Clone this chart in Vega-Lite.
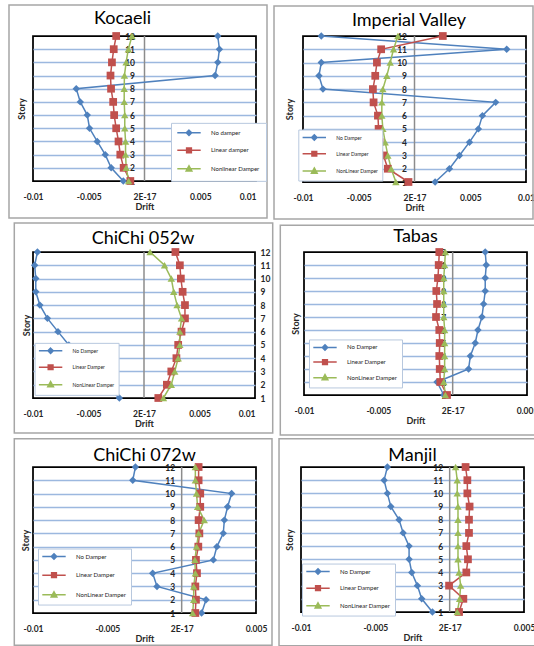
{
"$schema": "https://vega.github.io/schema/vega-lite/v6.json",
"padding": {"left": 7, "top": 3, "right": 0, "bottom": 0},
"data": {"values": [
{"panel":"Kocaeli","series":"No Damper","story":12,"drift":0.00657},
{"panel":"Kocaeli","series":"No Damper","story":11,"drift":0.00672},
{"panel":"Kocaeli","series":"No Damper","story":10,"drift":0.00657},
{"panel":"Kocaeli","series":"No Damper","story":9,"drift":0.00633},
{"panel":"Kocaeli","series":"No Damper","story":8,"drift":-0.00612},
{"panel":"Kocaeli","series":"No Damper","story":7,"drift":-0.00576},
{"panel":"Kocaeli","series":"No Damper","story":6,"drift":-0.00513},
{"panel":"Kocaeli","series":"No Damper","story":5,"drift":-0.00493},
{"panel":"Kocaeli","series":"No Damper","story":4,"drift":-0.00424},
{"panel":"Kocaeli","series":"No Damper","story":3,"drift":-0.00352},
{"panel":"Kocaeli","series":"No Damper","story":2,"drift":-0.00299},
{"panel":"Kocaeli","series":"No Damper","story":1,"drift":-0.0019},
{"panel":"Kocaeli","series":"Linear Damper","story":12,"drift":-0.00254},
{"panel":"Kocaeli","series":"Linear Damper","story":11,"drift":-0.00276},
{"panel":"Kocaeli","series":"Linear Damper","story":10,"drift":-0.00292},
{"panel":"Kocaeli","series":"Linear Damper","story":9,"drift":-0.00305},
{"panel":"Kocaeli","series":"Linear Damper","story":8,"drift":-0.003},
{"panel":"Kocaeli","series":"Linear Damper","story":7,"drift":-0.00281},
{"panel":"Kocaeli","series":"Linear Damper","story":6,"drift":-0.00272},
{"panel":"Kocaeli","series":"Linear Damper","story":5,"drift":-0.00254},
{"panel":"Kocaeli","series":"Linear Damper","story":4,"drift":-0.00233},
{"panel":"Kocaeli","series":"Linear Damper","story":3,"drift":-0.00217},
{"panel":"Kocaeli","series":"Linear Damper","story":2,"drift":-0.00187},
{"panel":"Kocaeli","series":"Linear Damper","story":1,"drift":-0.00127},
{"panel":"Kocaeli","series":"NonLinear Damper","story":12,"drift":-0.00112},
{"panel":"Kocaeli","series":"NonLinear Damper","story":11,"drift":-0.00145},
{"panel":"Kocaeli","series":"NonLinear Damper","story":10,"drift":-0.00165},
{"panel":"Kocaeli","series":"NonLinear Damper","story":9,"drift":-0.0018},
{"panel":"Kocaeli","series":"NonLinear Damper","story":8,"drift":-0.00182},
{"panel":"Kocaeli","series":"NonLinear Damper","story":7,"drift":-0.00182},
{"panel":"Kocaeli","series":"NonLinear Damper","story":6,"drift":-0.00177},
{"panel":"Kocaeli","series":"NonLinear Damper","story":5,"drift":-0.00177},
{"panel":"Kocaeli","series":"NonLinear Damper","story":4,"drift":-0.0017},
{"panel":"Kocaeli","series":"NonLinear Damper","story":3,"drift":-0.0017},
{"panel":"Kocaeli","series":"NonLinear Damper","story":2,"drift":-0.00164},
{"panel":"Kocaeli","series":"NonLinear Damper","story":1,"drift":-0.00142},
{"panel":"Imperial Valley","series":"No Damper","story":12,"drift":-0.00836},
{"panel":"Imperial Valley","series":"No Damper","story":11,"drift":0.00827},
{"panel":"Imperial Valley","series":"No Damper","story":10,"drift":-0.00836},
{"panel":"Imperial Valley","series":"No Damper","story":9,"drift":-0.00857},
{"panel":"Imperial Valley","series":"No Damper","story":8,"drift":-0.00821},
{"panel":"Imperial Valley","series":"No Damper","story":7,"drift":0.00728},
{"panel":"Imperial Valley","series":"No Damper","story":6,"drift":0.00609},
{"panel":"Imperial Valley","series":"No Damper","story":5,"drift":0.00573},
{"panel":"Imperial Valley","series":"No Damper","story":4,"drift":0.00493},
{"panel":"Imperial Valley","series":"No Damper","story":3,"drift":0.00403},
{"panel":"Imperial Valley","series":"No Damper","story":2,"drift":0.00313},
{"panel":"Imperial Valley","series":"No Damper","story":1,"drift":0.00185},
{"panel":"Imperial Valley","series":"Linear Damper","story":12,"drift":0.00254},
{"panel":"Imperial Valley","series":"Linear Damper","story":11,"drift":-0.00299},
{"panel":"Imperial Valley","series":"Linear Damper","story":10,"drift":-0.00337},
{"panel":"Imperial Valley","series":"Linear Damper","story":9,"drift":-0.00352},
{"panel":"Imperial Valley","series":"Linear Damper","story":8,"drift":-0.00373},
{"panel":"Imperial Valley","series":"Linear Damper","story":7,"drift":-0.00367},
{"panel":"Imperial Valley","series":"Linear Damper","story":6,"drift":-0.00328},
{"panel":"Imperial Valley","series":"Linear Damper","story":5,"drift":-0.00322},
{"panel":"Imperial Valley","series":"Linear Damper","story":4,"drift":-0.00313},
{"panel":"Imperial Valley","series":"Linear Damper","story":3,"drift":-0.00278},
{"panel":"Imperial Valley","series":"Linear Damper","story":2,"drift":-0.00239},
{"panel":"Imperial Valley","series":"Linear Damper","story":1,"drift":-0.00054},
{"panel":"Imperial Valley","series":"NonLinear Damper","story":12,"drift":-0.00149},
{"panel":"Imperial Valley","series":"NonLinear Damper","story":11,"drift":-0.00188},
{"panel":"Imperial Valley","series":"NonLinear Damper","story":10,"drift":-0.00218},
{"panel":"Imperial Valley","series":"NonLinear Damper","story":9,"drift":-0.00248},
{"panel":"Imperial Valley","series":"NonLinear Damper","story":8,"drift":-0.00284},
{"panel":"Imperial Valley","series":"NonLinear Damper","story":7,"drift":-0.00293},
{"panel":"Imperial Valley","series":"NonLinear Damper","story":6,"drift":-0.00293},
{"panel":"Imperial Valley","series":"NonLinear Damper","story":5,"drift":-0.00284},
{"panel":"Imperial Valley","series":"NonLinear Damper","story":4,"drift":-0.00263},
{"panel":"Imperial Valley","series":"NonLinear Damper","story":3,"drift":-0.00239},
{"panel":"Imperial Valley","series":"NonLinear Damper","story":2,"drift":-0.00209},
{"panel":"Imperial Valley","series":"NonLinear Damper","story":1,"drift":-0.00167},
{"panel":"ChiChi 052w","series":"No Damper","story":12,"drift":-0.0096},
{"panel":"ChiChi 052w","series":"No Damper","story":11,"drift":-0.00985},
{"panel":"ChiChi 052w","series":"No Damper","story":10,"drift":-0.00975},
{"panel":"ChiChi 052w","series":"No Damper","story":9,"drift":-0.00975},
{"panel":"ChiChi 052w","series":"No Damper","story":8,"drift":-0.00938},
{"panel":"ChiChi 052w","series":"No Damper","story":7,"drift":-0.0087},
{"panel":"ChiChi 052w","series":"No Damper","story":6,"drift":-0.00775},
{"panel":"ChiChi 052w","series":"No Damper","story":5,"drift":-0.00677},
{"panel":"ChiChi 052w","series":"No Damper","story":4,"drift":-0.0059},
{"panel":"ChiChi 052w","series":"No Damper","story":3,"drift":-0.00483},
{"panel":"ChiChi 052w","series":"No Damper","story":2,"drift":-0.00363},
{"panel":"ChiChi 052w","series":"No Damper","story":1,"drift":-0.00222},
{"panel":"ChiChi 052w","series":"Linear Damper","story":12,"drift":0.00283},
{"panel":"ChiChi 052w","series":"Linear Damper","story":11,"drift":0.00323},
{"panel":"ChiChi 052w","series":"Linear Damper","story":10,"drift":0.00332},
{"panel":"ChiChi 052w","series":"Linear Damper","story":9,"drift":0.00348},
{"panel":"ChiChi 052w","series":"Linear Damper","story":8,"drift":0.00369},
{"panel":"ChiChi 052w","series":"Linear Damper","story":7,"drift":0.00369},
{"panel":"ChiChi 052w","series":"Linear Damper","story":6,"drift":0.00338},
{"panel":"ChiChi 052w","series":"Linear Damper","story":5,"drift":0.00308},
{"panel":"ChiChi 052w","series":"Linear Damper","story":4,"drift":0.00292},
{"panel":"ChiChi 052w","series":"Linear Damper","story":3,"drift":0.00246},
{"panel":"ChiChi 052w","series":"Linear Damper","story":2,"drift":0.00206},
{"panel":"ChiChi 052w","series":"Linear Damper","story":1,"drift":0.00129},
{"panel":"ChiChi 052w","series":"NonLinear Damper","story":12,"drift":0.00055},
{"panel":"ChiChi 052w","series":"NonLinear Damper","story":11,"drift":0.00185},
{"panel":"ChiChi 052w","series":"NonLinear Damper","story":10,"drift":0.00246},
{"panel":"ChiChi 052w","series":"NonLinear Damper","story":9,"drift":0.00268},
{"panel":"ChiChi 052w","series":"NonLinear Damper","story":8,"drift":0.00298},
{"panel":"ChiChi 052w","series":"NonLinear Damper","story":7,"drift":0.00338},
{"panel":"ChiChi 052w","series":"NonLinear Damper","story":6,"drift":0.00323},
{"panel":"ChiChi 052w","series":"NonLinear Damper","story":5,"drift":0.00323},
{"panel":"ChiChi 052w","series":"NonLinear Damper","story":4,"drift":0.00308},
{"panel":"ChiChi 052w","series":"NonLinear Damper","story":3,"drift":0.00277},
{"panel":"ChiChi 052w","series":"NonLinear Damper","story":2,"drift":0.00246},
{"panel":"ChiChi 052w","series":"NonLinear Damper","story":1,"drift":0.00175},
{"panel":"Tabas","series":"No Damper","story":12,"drift":0.00219},
{"panel":"Tabas","series":"No Damper","story":11,"drift":0.00226},
{"panel":"Tabas","series":"No Damper","story":10,"drift":0.00219},
{"panel":"Tabas","series":"No Damper","story":9,"drift":0.00219},
{"panel":"Tabas","series":"No Damper","story":8,"drift":0.00208},
{"panel":"Tabas","series":"No Damper","story":7,"drift":0.00197},
{"panel":"Tabas","series":"No Damper","story":6,"drift":0.0017},
{"panel":"Tabas","series":"No Damper","story":5,"drift":0.00152},
{"panel":"Tabas","series":"No Damper","story":4,"drift":0.00119},
{"panel":"Tabas","series":"No Damper","story":3,"drift":0.00107},
{"panel":"Tabas","series":"No Damper","story":2,"drift":-0.00105},
{"panel":"Tabas","series":"No Damper","story":1,"drift":-0.0006},
{"panel":"Tabas","series":"Linear Damper","story":12,"drift":-0.0009},
{"panel":"Tabas","series":"Linear Damper","story":11,"drift":-0.00094},
{"panel":"Tabas","series":"Linear Damper","story":10,"drift":-0.00099},
{"panel":"Tabas","series":"Linear Damper","story":9,"drift":-0.0011},
{"panel":"Tabas","series":"Linear Damper","story":8,"drift":-0.00105},
{"panel":"Tabas","series":"Linear Damper","story":7,"drift":-0.00112},
{"panel":"Tabas","series":"Linear Damper","story":6,"drift":-0.0009},
{"panel":"Tabas","series":"Linear Damper","story":5,"drift":-0.00087},
{"panel":"Tabas","series":"Linear Damper","story":4,"drift":-0.0009},
{"panel":"Tabas","series":"Linear Damper","story":3,"drift":-0.00087},
{"panel":"Tabas","series":"Linear Damper","story":2,"drift":-0.00083},
{"panel":"Tabas","series":"Linear Damper","story":1,"drift":-0.00038},
{"panel":"Tabas","series":"NonLinear Damper","story":12,"drift":-0.00049},
{"panel":"Tabas","series":"NonLinear Damper","story":11,"drift":-0.00054},
{"panel":"Tabas","series":"NonLinear Damper","story":10,"drift":-0.0006},
{"panel":"Tabas","series":"NonLinear Damper","story":9,"drift":-0.0006},
{"panel":"Tabas","series":"NonLinear Damper","story":8,"drift":-0.0006},
{"panel":"Tabas","series":"NonLinear Damper","story":7,"drift":-0.0006},
{"panel":"Tabas","series":"NonLinear Damper","story":6,"drift":-0.00054},
{"panel":"Tabas","series":"NonLinear Damper","story":5,"drift":-0.00054},
{"panel":"Tabas","series":"NonLinear Damper","story":4,"drift":-0.00054},
{"panel":"Tabas","series":"NonLinear Damper","story":3,"drift":-0.00054},
{"panel":"Tabas","series":"NonLinear Damper","story":2,"drift":-0.0006},
{"panel":"Tabas","series":"NonLinear Damper","story":1,"drift":-0.00049},
{"panel":"ChiChi 072w","series":"No Damper","story":12,"drift":-0.00311},
{"panel":"ChiChi 072w","series":"No Damper","story":11,"drift":-0.00329},
{"panel":"ChiChi 072w","series":"No Damper","story":10,"drift":0.00336},
{"panel":"ChiChi 072w","series":"No Damper","story":9,"drift":0.00309},
{"panel":"ChiChi 072w","series":"No Damper","story":8,"drift":0.00287},
{"panel":"ChiChi 072w","series":"No Damper","story":7,"drift":0.0028},
{"panel":"ChiChi 072w","series":"No Damper","story":6,"drift":0.00237},
{"panel":"ChiChi 072w","series":"No Damper","story":5,"drift":0.00213},
{"panel":"ChiChi 072w","series":"No Damper","story":4,"drift":-0.00195},
{"panel":"ChiChi 072w","series":"No Damper","story":3,"drift":-0.00166},
{"panel":"ChiChi 072w","series":"No Damper","story":2,"drift":0.00164},
{"panel":"ChiChi 072w","series":"No Damper","story":1,"drift":0.00134},
{"panel":"ChiChi 072w","series":"Linear Damper","story":12,"drift":0.00114},
{"panel":"ChiChi 072w","series":"Linear Damper","story":11,"drift":0.00114},
{"panel":"ChiChi 072w","series":"Linear Damper","story":10,"drift":0.00125},
{"panel":"ChiChi 072w","series":"Linear Damper","story":9,"drift":0.00125},
{"panel":"ChiChi 072w","series":"Linear Damper","story":8,"drift":0.00114},
{"panel":"ChiChi 072w","series":"Linear Damper","story":7,"drift":0.00119},
{"panel":"ChiChi 072w","series":"Linear Damper","story":6,"drift":0.00112},
{"panel":"ChiChi 072w","series":"Linear Damper","story":5,"drift":0.00096},
{"panel":"ChiChi 072w","series":"Linear Damper","story":4,"drift":0.00103},
{"panel":"ChiChi 072w","series":"Linear Damper","story":3,"drift":0.00092},
{"panel":"ChiChi 072w","series":"Linear Damper","story":2,"drift":0.00096},
{"panel":"ChiChi 072w","series":"Linear Damper","story":1,"drift":0.00092},
{"panel":"ChiChi 072w","series":"NonLinear Damper","story":12,"drift":0.00092},
{"panel":"ChiChi 072w","series":"NonLinear Damper","story":11,"drift":0.00092},
{"panel":"ChiChi 072w","series":"NonLinear Damper","story":10,"drift":0.001},
{"panel":"ChiChi 072w","series":"NonLinear Damper","story":9,"drift":0.00107},
{"panel":"ChiChi 072w","series":"NonLinear Damper","story":8,"drift":0.00152},
{"panel":"ChiChi 072w","series":"NonLinear Damper","story":7,"drift":0.00114},
{"panel":"ChiChi 072w","series":"NonLinear Damper","story":6,"drift":0.001},
{"panel":"ChiChi 072w","series":"NonLinear Damper","story":5,"drift":0.00089},
{"panel":"ChiChi 072w","series":"NonLinear Damper","story":4,"drift":0.00092},
{"panel":"ChiChi 072w","series":"NonLinear Damper","story":3,"drift":0.00081},
{"panel":"ChiChi 072w","series":"NonLinear Damper","story":2,"drift":0.00081},
{"panel":"ChiChi 072w","series":"NonLinear Damper","story":1,"drift":0.00074},
{"panel":"Manjil","series":"No Damper","story":12,"drift":-0.00419},
{"panel":"Manjil","series":"No Damper","story":11,"drift":-0.00441},
{"panel":"Manjil","series":"No Damper","story":10,"drift":-0.00419},
{"panel":"Manjil","series":"No Damper","story":9,"drift":-0.00396},
{"panel":"Manjil","series":"No Damper","story":8,"drift":-0.0034},
{"panel":"Manjil","series":"No Damper","story":7,"drift":-0.00313},
{"panel":"Manjil","series":"No Damper","story":6,"drift":-0.00273},
{"panel":"Manjil","series":"No Damper","story":5,"drift":-0.00273},
{"panel":"Manjil","series":"No Damper","story":4,"drift":-0.00255},
{"panel":"Manjil","series":"No Damper","story":3,"drift":-0.00217},
{"panel":"Manjil","series":"No Damper","story":2,"drift":-0.00188},
{"panel":"Manjil","series":"No Damper","story":1,"drift":-0.00116},
{"panel":"Manjil","series":"Linear Damper","story":12,"drift":0.00107},
{"panel":"Manjil","series":"Linear Damper","story":11,"drift":0.00119},
{"panel":"Manjil","series":"Linear Damper","story":10,"drift":0.00119},
{"panel":"Manjil","series":"Linear Damper","story":9,"drift":0.00134},
{"panel":"Manjil","series":"Linear Damper","story":8,"drift":0.0013},
{"panel":"Manjil","series":"Linear Damper","story":7,"drift":0.0013},
{"panel":"Manjil","series":"Linear Damper","story":6,"drift":0.00112},
{"panel":"Manjil","series":"Linear Damper","story":5,"drift":0.00123},
{"panel":"Manjil","series":"Linear Damper","story":4,"drift":0.00112},
{"panel":"Manjil","series":"Linear Damper","story":3,"drift":-0.00004},
{"panel":"Manjil","series":"Linear Damper","story":2,"drift":0.00092},
{"panel":"Manjil","series":"Linear Damper","story":1,"drift":0.00063},
{"panel":"Manjil","series":"NonLinear Damper","story":12,"drift":0.0004},
{"panel":"Manjil","series":"NonLinear Damper","story":11,"drift":0.00051},
{"panel":"Manjil","series":"NonLinear Damper","story":10,"drift":0.00051},
{"panel":"Manjil","series":"NonLinear Damper","story":9,"drift":0.00056},
{"panel":"Manjil","series":"NonLinear Damper","story":8,"drift":0.00056},
{"panel":"Manjil","series":"NonLinear Damper","story":7,"drift":0.00056},
{"panel":"Manjil","series":"NonLinear Damper","story":6,"drift":0.00056},
{"panel":"Manjil","series":"NonLinear Damper","story":5,"drift":0.00056},
{"panel":"Manjil","series":"NonLinear Damper","story":4,"drift":0.00063},
{"panel":"Manjil","series":"NonLinear Damper","story":3,"drift":0.00074},
{"panel":"Manjil","series":"NonLinear Damper","story":2,"drift":0.00067},
{"panel":"Manjil","series":"NonLinear Damper","story":1,"drift":0.00051}
]},
"spacing": 0,
"resolve": {"scale": {"color": "independent"}, "legend": {"color": "independent"}},
"vconcat": [
{"hconcat": [
{"width": 223, "height": 145,
 "title": {"text": "Kocaeli", "offset": -23.75, "dx": -22},
 "layer": [
  {"data": {"values": [{}]}, "mark": {"type": "rect", "fill": "transparent", "stroke": "#A6A6A6", "strokeWidth": 1.5},
   "encoding": {"x": {"datum": -0.012153, "type": "quantitative"}, "x2": {"datum": 0.010987}, "y": {"datum": -1.807, "type": "quantitative"}, "y2": {"datum": 14.352}}},
  {"data": {"values": [{}]}, "mark": {"type": "rule", "color": "#8C8C8C", "strokeWidth": 1.5}, "encoding": {"x": {"datum": 0, "type": "quantitative"}}},
  {"transform": [{"filter": "datum.panel === 'Kocaeli'"}], "mark": {"type": "line", "strokeWidth": 1.5},
   "encoding": {
    "x": {"field": "drift", "type": "quantitative", "scale": {"domain": [-0.01, 0.01], "nice": false, "zero": false},
      "axis": {"values": [-0.01, -0.005, 0, 0.005, 0.01], "tickCount": 5, "labelExpr": "datum.value < -0.0075 ? '-0.01' : datum.value < -0.0025 ? '-0.005' : datum.value < 0.0025 ? '2E-17' : datum.value < 0.0075 ? '0.005' : '0.01'", "labelAlign": {"condition": {"test": "datum.value > 0.0075", "value": "right"}, "value": "center"}, "domain": false, "ticks": false, "grid": false, "labelPadding": 11, "title": "Drift", "titlePadding": 2}},
    "y": {"field": "story", "type": "quantitative", "scale": {"domain": [1, 12], "nice": false, "zero": false},
      "axis": {"values": [1,2,3,4,5,6,7,8,9,10,11,12], "tickCount": 12, "offset": -111.5, "domain": false, "ticks": false, "labelPadding": 10, "grid": true, "gridColor": "#9CB8DF", "gridWidth": 1.5, "gridOpacity": {"condition": {"test": "datum.value == 1 || datum.value == 12", "value": 0}, "value": 1}, "title": "Story", "titleX": -123, "titleBaseline": "middle"}},
    "color": {"field": "series", "type": "nominal", "scale": {"domain": ["No Damper", "Linear Damper", "NonLinear Damper"], "range": ["#4F81BD", "#C0504D", "#9BBB59"]},
      "legend": {"orient": "none", "legendX": 138, "legendY": 86.85, "padding": 6, "rowPadding": 5.5, "labelFontSize": 6,
        "labelExpr": "datum.label === 'No Damper' ? 'No damper' : datum.label === 'Linear Damper' ? 'Linear damper' : 'Nonlinear Damper'",
        "encode": {"symbols": {"update": {
          "shape": {"signal": "datum.value === 'No Damper' ? 'M-3.7,0H3.7M0,-0.85L0.85,0L0,0.85L-0.85,0Z' : datum.value === 'Linear Damper' ? 'M-3.7,0H3.7M-0.75,-0.75H0.75V0.75H-0.75Z' : 'M-3.7,0H3.7M0,-0.95L0.9,0.7H-0.9Z'"},
          "stroke": {"signal": "datum.value === 'No Damper' ? '#4F81BD' : datum.value === 'Linear Damper' ? '#C0504D' : '#9BBB59'"},
          "fill": {"signal": "datum.value === 'No Damper' ? '#4F81BD' : datum.value === 'Linear Damper' ? '#C0504D' : '#9BBB59'"}}}}}},
    "order": {"field": "story", "type": "quantitative"}}},
  {"transform": [{"filter": "datum.panel === 'Kocaeli' && datum.series === 'No Damper'"}], "mark": {"type": "point", "shape": "diamond", "filled": true, "opacity": 1, "size": 55},
   "encoding": {"x": {"field": "drift", "type": "quantitative"}, "y": {"field": "story", "type": "quantitative"}, "color": {"field": "series", "type": "nominal"}}},
  {"transform": [{"filter": "datum.panel === 'Kocaeli' && datum.series === 'Linear Damper'"}], "mark": {"type": "point", "shape": "square", "filled": true, "opacity": 1, "size": 60},
   "encoding": {"x": {"field": "drift", "type": "quantitative"}, "y": {"field": "story", "type": "quantitative"}, "color": {"field": "series", "type": "nominal"}}},
  {"transform": [{"filter": "datum.panel === 'Kocaeli' && datum.series === 'NonLinear Damper'"}], "mark": {"type": "point", "shape": "triangle-up", "filled": true, "opacity": 1, "size": 55},
   "encoding": {"x": {"field": "drift", "type": "quantitative"}, "y": {"field": "story", "type": "quantitative"}, "color": {"field": "series", "type": "nominal"}}}
 ]},
{"width": 223, "height": 146,
 "title": {"text": "Imperial Valley", "offset": -25, "dx": -5.5},
 "layer": [
  {"data": {"values": [{}]}, "mark": {"type": "rect", "fill": "transparent", "stroke": "#A6A6A6", "strokeWidth": 1.5},
   "encoding": {"x": {"datum": -0.0126, "type": "quantitative"}, "x2": {"datum": 0.010628}, "y": {"datum": -1.788, "type": "quantitative"}, "y2": {"datum": 14.26}}},
  {"data": {"values": [{}]}, "mark": {"type": "rule", "color": "#8C8C8C", "strokeWidth": 1.5}, "encoding": {"x": {"datum": 0, "type": "quantitative"}}},
  {"transform": [{"filter": "datum.panel === 'Imperial Valley'"}], "mark": {"type": "line", "strokeWidth": 1.5},
   "encoding": {
    "x": {"field": "drift", "type": "quantitative", "scale": {"domain": [-0.01, 0.01], "nice": false, "zero": false},
      "axis": {"values": [-0.01, -0.005, 0, 0.005, 0.01], "tickCount": 5, "labelExpr": "datum.value < -0.0075 ? '-0.01' : datum.value < -0.0025 ? '-0.005' : datum.value < 0.0025 ? '2E-17' : datum.value < 0.0075 ? '0.005' : '0.01'", "domain": false, "ticks": false, "grid": false, "labelPadding": 11, "title": "Drift", "titlePadding": 2}},
    "y": {"field": "story", "type": "quantitative", "scale": {"domain": [1, 12], "nice": false, "zero": false},
      "axis": {"values": [1,2,3,4,5,6,7,8,9,10,11,12], "tickCount": 12, "offset": -111.5, "domain": false, "ticks": false, "labelPadding": 8, "grid": true, "gridColor": "#9CB8DF", "gridWidth": 1.5, "gridOpacity": {"condition": {"test": "datum.value == 1 || datum.value == 12", "value": 0}, "value": 1}, "title": "Story", "titleX": -125.5, "titleBaseline": "middle"}},
    "color": {"field": "series", "type": "nominal", "scale": {"domain": ["No Damper", "Linear Damper", "NonLinear Damper"], "range": ["#4F81BD", "#C0504D", "#9BBB59"]},
      "legend": {"orient": "none", "legendX": -4.7, "legendY": 93.55, "padding": 4, "rowPadding": 4.2, "labelFontSize": 5,
        "encode": {"symbols": {"update": {
          "shape": {"signal": "datum.value === 'No Damper' ? 'M-3.7,0H3.7M0,-0.85L0.85,0L0,0.85L-0.85,0Z' : datum.value === 'Linear Damper' ? 'M-3.7,0H3.7M-0.75,-0.75H0.75V0.75H-0.75Z' : 'M-3.7,0H3.7M0,-0.95L0.9,0.7H-0.9Z'"},
          "stroke": {"signal": "datum.value === 'No Damper' ? '#4F81BD' : datum.value === 'Linear Damper' ? '#C0504D' : '#9BBB59'"},
          "fill": {"signal": "datum.value === 'No Damper' ? '#4F81BD' : datum.value === 'Linear Damper' ? '#C0504D' : '#9BBB59'"}}}}}},
    "order": {"field": "story", "type": "quantitative"}}},
  {"transform": [{"filter": "datum.panel === 'Imperial Valley' && datum.series === 'No Damper'"}], "mark": {"type": "point", "shape": "diamond", "filled": true, "opacity": 1, "size": 55},
   "encoding": {"x": {"field": "drift", "type": "quantitative"}, "y": {"field": "story", "type": "quantitative"}, "color": {"field": "series", "type": "nominal"}}},
  {"transform": [{"filter": "datum.panel === 'Imperial Valley' && datum.series === 'Linear Damper'"}], "mark": {"type": "point", "shape": "square", "filled": true, "opacity": 1, "size": 60},
   "encoding": {"x": {"field": "drift", "type": "quantitative"}, "y": {"field": "story", "type": "quantitative"}, "color": {"field": "series", "type": "nominal"}}},
  {"transform": [{"filter": "datum.panel === 'Imperial Valley' && datum.series === 'NonLinear Damper'"}], "mark": {"type": "point", "shape": "triangle-up", "filled": true, "opacity": 1, "size": 55},
   "encoding": {"x": {"field": "drift", "type": "quantitative"}, "y": {"field": "story", "type": "quantitative"}, "color": {"field": "series", "type": "nominal"}}}
 ]}
], "spacing": 3, "resolve": {"scale": {"color": "independent"}, "legend": {"color": "independent"}}},
{"hconcat": [
{"width": 222, "height": 146,
 "title": {"text": "ChiChi 052w", "offset": -25.75, "dx": -1},
 "layer": [
  {"data": {"values": [{}]}, "mark": {"type": "rect", "fill": "transparent", "stroke": "#A6A6A6", "strokeWidth": 1.5},
   "encoding": {"x": {"datum": -0.011685, "type": "quantitative"}, "x2": {"datum": 0.011595}, "y": {"datum": -1.637, "type": "quantitative"}, "y2": {"datum": 14.185}}},
  {"data": {"values": [{}]}, "mark": {"type": "rule", "color": "#8C8C8C", "strokeWidth": 1.5}, "encoding": {"x": {"datum": 0, "type": "quantitative"}}},
  {"transform": [{"filter": "datum.panel === 'ChiChi 052w'"}], "mark": {"type": "line", "strokeWidth": 1.5},
   "encoding": {
    "x": {"field": "drift", "type": "quantitative", "scale": {"domain": [-0.01, 0.01], "nice": false, "zero": false},
      "axis": {"values": [-0.01, -0.005, 0, 0.005, 0.01], "tickCount": 5, "labelExpr": "datum.value < -0.0075 ? '-0.01' : datum.value < -0.0025 ? '-0.005' : datum.value < 0.0025 ? '2E-17' : datum.value < 0.0075 ? '0.005' : '0.01'", "labelAlign": {"condition": {"test": "datum.value > 0.0075", "value": "right"}, "value": "center"}, "domain": false, "ticks": false, "grid": false, "labelPadding": 11, "title": "Drift", "titlePadding": 2}},
    "y": {"field": "story", "type": "quantitative", "scale": {"domain": [1, 12], "nice": false, "zero": false},
      "axis": {"orient": "right", "values": [1,2,3,4,5,6,7,8,9,10,11,12], "tickCount": 12, "offset": 0, "domain": false, "ticks": false, "labelPadding": 5, "grid": true, "gridColor": "#9CB8DF", "gridWidth": 1.5, "gridOpacity": {"condition": {"test": "datum.value == 1 || datum.value == 12", "value": 0}, "value": 1}, "title": "Story", "titleAngle": 270, "titleX": -228.4, "titleBaseline": "middle"}},
    "color": {"field": "series", "type": "nominal", "scale": {"domain": ["No Damper", "Linear Damper", "NonLinear Damper"], "range": ["#4F81BD", "#C0504D", "#9BBB59"]},
      "legend": {"orient": "none", "legendX": 1.6, "legendY": 90.85, "padding": 4, "rowPadding": 4.4, "labelFontSize": 5,
        "encode": {"symbols": {"update": {
          "shape": {"signal": "datum.value === 'No Damper' ? 'M-3.7,0H3.7M0,-0.85L0.85,0L0,0.85L-0.85,0Z' : datum.value === 'Linear Damper' ? 'M-3.7,0H3.7M-0.75,-0.75H0.75V0.75H-0.75Z' : 'M-3.7,0H3.7M0,-0.95L0.9,0.7H-0.9Z'"},
          "stroke": {"signal": "datum.value === 'No Damper' ? '#4F81BD' : datum.value === 'Linear Damper' ? '#C0504D' : '#9BBB59'"},
          "fill": {"signal": "datum.value === 'No Damper' ? '#4F81BD' : datum.value === 'Linear Damper' ? '#C0504D' : '#9BBB59'"}}}}}},
    "order": {"field": "story", "type": "quantitative"}}},
  {"transform": [{"filter": "datum.panel === 'ChiChi 052w' && datum.series === 'No Damper'"}], "mark": {"type": "point", "shape": "diamond", "filled": true, "opacity": 1, "size": 55},
   "encoding": {"x": {"field": "drift", "type": "quantitative"}, "y": {"field": "story", "type": "quantitative"}, "color": {"field": "series", "type": "nominal"}}},
  {"transform": [{"filter": "datum.panel === 'ChiChi 052w' && datum.series === 'Linear Damper'"}], "mark": {"type": "point", "shape": "square", "filled": true, "opacity": 1, "size": 60},
   "encoding": {"x": {"field": "drift", "type": "quantitative"}, "y": {"field": "story", "type": "quantitative"}, "color": {"field": "series", "type": "nominal"}}},
  {"transform": [{"filter": "datum.panel === 'ChiChi 052w' && datum.series === 'NonLinear Damper'"}], "mark": {"type": "point", "shape": "triangle-up", "filled": true, "opacity": 1, "size": 55},
   "encoding": {"x": {"field": "drift", "type": "quantitative"}, "y": {"field": "story", "type": "quantitative"}, "color": {"field": "series", "type": "nominal"}}}
 ]},
{"width": 223, "height": 143,
 "title": {"text": "Tabas", "offset": -21.75},
 "layer": [
  {"data": {"values": [{}]}, "mark": {"type": "rect", "fill": "transparent", "stroke": "#A6A6A6", "strokeWidth": 1.5},
   "encoding": {"x": {"datum": -0.011594, "type": "quantitative"}, "x2": {"datum": 0.005807}, "y": {"datum": -2.08, "type": "quantitative"}, "y2": {"datum": 14.05}}},
  {"data": {"values": [{}]}, "mark": {"type": "rule", "color": "#8C8C8C", "strokeWidth": 1.5}, "encoding": {"x": {"datum": 0, "type": "quantitative"}}},
  {"transform": [{"filter": "datum.panel === 'Tabas'"}], "mark": {"type": "line", "strokeWidth": 1.5},
   "encoding": {
    "x": {"field": "drift", "type": "quantitative", "scale": {"domain": [-0.01, 0.005], "nice": false, "zero": false},
      "axis": {"values": [-0.01, -0.005, 0, 0.005], "tickCount": 4, "labelExpr": "datum.value < -0.0075 ? '-0.01' : datum.value < -0.0025 ? '-0.005' : datum.value < 0.0025 ? '2E-17' : '0.005'", "domain": false, "ticks": false, "grid": false, "labelPadding": 11, "title": "Drift", "titlePadding": 2}},
    "y": {"field": "story", "type": "quantitative", "scale": {"domain": [1, 12], "nice": false, "zero": false},
      "axis": {"values": [1,2,3,4,5,6,7,8,9,10,11,12], "tickCount": 12, "offset": -148.67, "domain": false, "ticks": false, "labelPadding": 7, "grid": true, "gridColor": "#9CB8DF", "gridWidth": 1.5, "gridOpacity": {"condition": {"test": "datum.value == 1 || datum.value == 12", "value": 0}, "value": 1}, "title": "Story", "titleX": -157, "titleBaseline": "middle"}},
    "color": {"field": "series", "type": "nominal", "scale": {"domain": ["No Damper", "Linear Damper", "NonLinear Damper"], "range": ["#4F81BD", "#C0504D", "#9BBB59"]},
      "legend": {"orient": "none", "legendX": 5, "legendY": 87.45, "padding": 4, "rowPadding": 2.6, "labelFontSize": 6,
        "encode": {"symbols": {"update": {
          "shape": {"signal": "datum.value === 'No Damper' ? 'M-3.7,0H3.7M0,-0.85L0.85,0L0,0.85L-0.85,0Z' : datum.value === 'Linear Damper' ? 'M-3.7,0H3.7M-0.75,-0.75H0.75V0.75H-0.75Z' : 'M-3.7,0H3.7M0,-0.95L0.9,0.7H-0.9Z'"},
          "stroke": {"signal": "datum.value === 'No Damper' ? '#4F81BD' : datum.value === 'Linear Damper' ? '#C0504D' : '#9BBB59'"},
          "fill": {"signal": "datum.value === 'No Damper' ? '#4F81BD' : datum.value === 'Linear Damper' ? '#C0504D' : '#9BBB59'"}}}}}},
    "order": {"field": "story", "type": "quantitative"}}},
  {"transform": [{"filter": "datum.panel === 'Tabas' && datum.series === 'No Damper'"}], "mark": {"type": "point", "shape": "diamond", "filled": true, "opacity": 1, "size": 55},
   "encoding": {"x": {"field": "drift", "type": "quantitative"}, "y": {"field": "story", "type": "quantitative"}, "color": {"field": "series", "type": "nominal"}}},
  {"transform": [{"filter": "datum.panel === 'Tabas' && datum.series === 'Linear Damper'"}], "mark": {"type": "point", "shape": "square", "filled": true, "opacity": 1, "size": 60},
   "encoding": {"x": {"field": "drift", "type": "quantitative"}, "y": {"field": "story", "type": "quantitative"}, "color": {"field": "series", "type": "nominal"}}},
  {"transform": [{"filter": "datum.panel === 'Tabas' && datum.series === 'NonLinear Damper'"}], "mark": {"type": "point", "shape": "triangle-up", "filled": true, "opacity": 1, "size": 55},
   "encoding": {"x": {"field": "drift", "type": "quantitative"}, "y": {"field": "story", "type": "quantitative"}, "color": {"field": "series", "type": "nominal"}}}
 ]}
], "spacing": 3, "resolve": {"scale": {"color": "independent"}, "legend": {"color": "independent"}}},
{"hconcat": [
{"width": 223, "height": 146,
 "title": {"text": "ChiChi 072w", "offset": -27.45},
 "layer": [
  {"data": {"values": [{}]}, "mark": {"type": "rect", "fill": "transparent", "stroke": "#A6A6A6", "strokeWidth": 1.5},
   "encoding": {"x": {"datum": -0.011258, "type": "quantitative"}, "x2": {"datum": 0.006076}, "y": {"datum": -1.43, "type": "quantitative"}, "y2": {"datum": 14.13}}},
  {"data": {"values": [{}]}, "mark": {"type": "rule", "color": "#8C8C8C", "strokeWidth": 1.5}, "encoding": {"x": {"datum": 0, "type": "quantitative"}}},
  {"transform": [{"filter": "datum.panel === 'ChiChi 072w'"}], "mark": {"type": "line", "strokeWidth": 1.5},
   "encoding": {
    "x": {"field": "drift", "type": "quantitative", "scale": {"domain": [-0.01, 0.005], "nice": false, "zero": false},
      "axis": {"values": [-0.01, -0.005, 0, 0.005], "tickCount": 4, "labelExpr": "datum.value < -0.0075 ? '-0.01' : datum.value < -0.0025 ? '-0.005' : datum.value < 0.0025 ? '2E-17' : '0.005'", "domain": false, "ticks": false, "grid": false, "labelPadding": 11, "title": "Drift", "titlePadding": 2}},
    "y": {"field": "story", "type": "quantitative", "scale": {"domain": [1, 12], "nice": false, "zero": false},
      "axis": {"values": [1,2,3,4,5,6,7,8,9,10,11,12], "tickCount": 12, "offset": -148.67, "domain": false, "ticks": false, "labelPadding": 7, "grid": true, "gridColor": "#9CB8DF", "gridWidth": 1.5, "gridOpacity": {"condition": {"test": "datum.value == 1 || datum.value == 12", "value": 0}, "value": 1}, "title": "Story", "titleX": -155.7, "titleBaseline": "middle"}},
    "color": {"field": "series", "type": "nominal", "scale": {"domain": ["No Damper", "Linear Damper", "NonLinear Damper"], "range": ["#4F81BD", "#C0504D", "#9BBB59"]},
      "legend": {"orient": "none", "legendX": 5, "legendY": 81.55, "padding": 4, "rowPadding": 6.6, "labelFontSize": 6,
        "encode": {"symbols": {"update": {
          "shape": {"signal": "datum.value === 'No Damper' ? 'M-3.7,0H3.7M0,-0.85L0.85,0L0,0.85L-0.85,0Z' : datum.value === 'Linear Damper' ? 'M-3.7,0H3.7M-0.75,-0.75H0.75V0.75H-0.75Z' : 'M-3.7,0H3.7M0,-0.95L0.9,0.7H-0.9Z'"},
          "stroke": {"signal": "datum.value === 'No Damper' ? '#4F81BD' : datum.value === 'Linear Damper' ? '#C0504D' : '#9BBB59'"},
          "fill": {"signal": "datum.value === 'No Damper' ? '#4F81BD' : datum.value === 'Linear Damper' ? '#C0504D' : '#9BBB59'"}}}}}},
    "order": {"field": "story", "type": "quantitative"}}},
  {"transform": [{"filter": "datum.panel === 'ChiChi 072w' && datum.series === 'No Damper'"}], "mark": {"type": "point", "shape": "diamond", "filled": true, "opacity": 1, "size": 55},
   "encoding": {"x": {"field": "drift", "type": "quantitative"}, "y": {"field": "story", "type": "quantitative"}, "color": {"field": "series", "type": "nominal"}}},
  {"transform": [{"filter": "datum.panel === 'ChiChi 072w' && datum.series === 'Linear Damper'"}], "mark": {"type": "point", "shape": "square", "filled": true, "opacity": 1, "size": 60},
   "encoding": {"x": {"field": "drift", "type": "quantitative"}, "y": {"field": "story", "type": "quantitative"}, "color": {"field": "series", "type": "nominal"}}},
  {"transform": [{"filter": "datum.panel === 'ChiChi 072w' && datum.series === 'NonLinear Damper'"}], "mark": {"type": "point", "shape": "triangle-up", "filled": true, "opacity": 1, "size": 55},
   "encoding": {"x": {"field": "drift", "type": "quantitative"}, "y": {"field": "story", "type": "quantitative"}, "color": {"field": "series", "type": "nominal"}}}
 ]},
{"width": 223, "height": 145,
 "title": {"text": "Manjil", "offset": -27.45},
 "layer": [
  {"data": {"values": [{}]}, "mark": {"type": "rect", "fill": "transparent", "stroke": "#A6A6A6", "strokeWidth": 1.5},
   "encoding": {"x": {"datum": -0.011478, "type": "quantitative"}, "x2": {"datum": 0.00592}, "y": {"datum": -1.557, "type": "quantitative"}, "y2": {"datum": 14.147}}},
  {"data": {"values": [{}]}, "mark": {"type": "rule", "color": "#8C8C8C", "strokeWidth": 1.5}, "encoding": {"x": {"datum": 0, "type": "quantitative"}}},
  {"transform": [{"filter": "datum.panel === 'Manjil'"}], "mark": {"type": "line", "strokeWidth": 1.5},
   "encoding": {
    "x": {"field": "drift", "type": "quantitative", "scale": {"domain": [-0.01, 0.005], "nice": false, "zero": false},
      "axis": {"values": [-0.01, -0.005, 0, 0.005], "tickCount": 4, "labelExpr": "datum.value < -0.0075 ? '-0.01' : datum.value < -0.0025 ? '-0.005' : datum.value < 0.0025 ? '2E-17' : '0.005'", "domain": false, "ticks": false, "grid": false, "labelPadding": 11, "title": "Drift", "titlePadding": 2}},
    "y": {"field": "story", "type": "quantitative", "scale": {"domain": [1, 12], "nice": false, "zero": false},
      "axis": {"values": [1,2,3,4,5,6,7,8,9,10,11,12], "tickCount": 12, "offset": -148.67, "domain": false, "ticks": false, "labelPadding": 7, "grid": true, "gridColor": "#9CB8DF", "gridWidth": 1.5, "gridOpacity": {"condition": {"test": "datum.value == 1 || datum.value == 12", "value": 0}, "value": 1}, "title": "Story", "titleX": -159.7, "titleBaseline": "middle"}},
    "color": {"field": "series", "type": "nominal", "scale": {"domain": ["No Damper", "Linear Damper", "NonLinear Damper"], "range": ["#4F81BD", "#C0504D", "#9BBB59"]},
      "legend": {"orient": "none", "legendX": 1, "legendY": 96.55, "padding": 4, "rowPadding": 4.6, "labelFontSize": 6,
        "encode": {"symbols": {"update": {
          "shape": {"signal": "datum.value === 'No Damper' ? 'M-3.7,0H3.7M0,-0.85L0.85,0L0,0.85L-0.85,0Z' : datum.value === 'Linear Damper' ? 'M-3.7,0H3.7M-0.75,-0.75H0.75V0.75H-0.75Z' : 'M-3.7,0H3.7M0,-0.95L0.9,0.7H-0.9Z'"},
          "stroke": {"signal": "datum.value === 'No Damper' ? '#4F81BD' : datum.value === 'Linear Damper' ? '#C0504D' : '#9BBB59'"},
          "fill": {"signal": "datum.value === 'No Damper' ? '#4F81BD' : datum.value === 'Linear Damper' ? '#C0504D' : '#9BBB59'"}}}}}},
    "order": {"field": "story", "type": "quantitative"}}},
  {"transform": [{"filter": "datum.panel === 'Manjil' && datum.series === 'No Damper'"}], "mark": {"type": "point", "shape": "diamond", "filled": true, "opacity": 1, "size": 55},
   "encoding": {"x": {"field": "drift", "type": "quantitative"}, "y": {"field": "story", "type": "quantitative"}, "color": {"field": "series", "type": "nominal"}}},
  {"transform": [{"filter": "datum.panel === 'Manjil' && datum.series === 'Linear Damper'"}], "mark": {"type": "point", "shape": "square", "filled": true, "opacity": 1, "size": 60},
   "encoding": {"x": {"field": "drift", "type": "quantitative"}, "y": {"field": "story", "type": "quantitative"}, "color": {"field": "series", "type": "nominal"}}},
  {"transform": [{"filter": "datum.panel === 'Manjil' && datum.series === 'NonLinear Damper'"}], "mark": {"type": "point", "shape": "triangle-up", "filled": true, "opacity": 1, "size": 55},
   "encoding": {"x": {"field": "drift", "type": "quantitative"}, "y": {"field": "story", "type": "quantitative"}, "color": {"field": "series", "type": "nominal"}}}
 ]}
], "spacing": 3, "resolve": {"scale": {"color": "independent"}, "legend": {"color": "independent"}}}
],
"config": {
 "view": {"stroke": "#000000", "strokeWidth": 1.75},
 "font": "Lato",
 "title": {"font": "Lato", "fontSize": 18, "fontWeight": "normal", "color": "#000000", "frame": "group", "anchor": "middle", "baseline": "alphabetic"},
 "axis": {"labelFont": "Lato", "labelFontSize": 8.5, "labelFontWeight": "bold", "labelColor": "#262626", "titleFont": "Lato", "titleFontSize": 9, "titleFontWeight": "bold", "titleColor": "#262626", "labelOverlap": false, "labelBound": false, "labelFlush": false},
 "legend": {"title": null, "fillColor": "#FFFFFF", "strokeColor": "#B8C8DE", "symbolSize": 40, "symbolStrokeWidth": 1.5, "symbolOffset": 8, "labelOffset": 18, "labelFont": "Lato", "labelColor": "#1A1A1A", "symbolOpacity": 1, "labelLimit": 200}
}
}
